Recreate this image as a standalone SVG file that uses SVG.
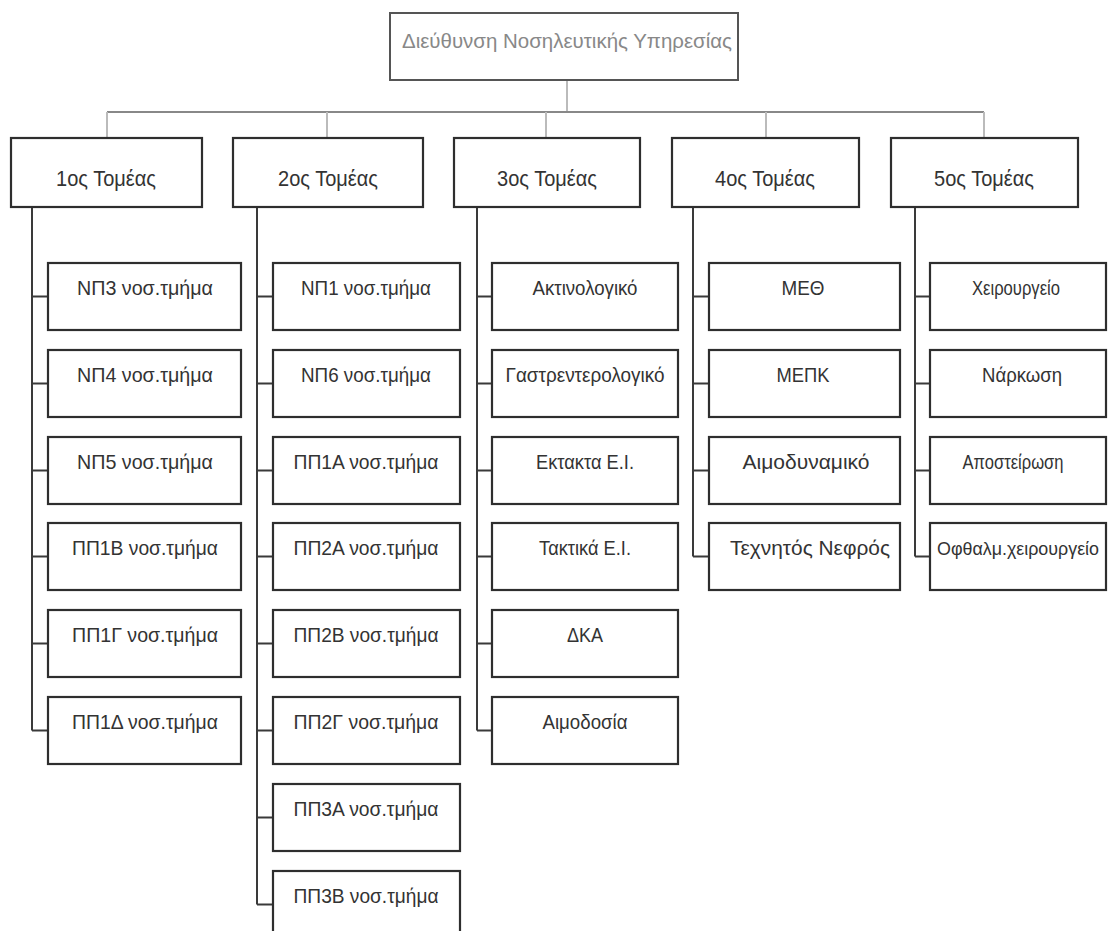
<svg xmlns="http://www.w3.org/2000/svg" width="1108" height="931" viewBox="0 0 1108 931">
<style>
.bx{fill:#fff;stroke:#2e2e2e;stroke-width:2.2}
.top{fill:#fff;stroke:#555;stroke-width:2}
.t{font-family:"Liberation Sans",Arial,sans-serif;font-size:21px;fill:#333;text-anchor:middle}
.tt{font-family:"Liberation Sans",Arial,sans-serif;font-size:20px;fill:#888;text-anchor:middle}
.th{font-family:"Liberation Sans",Arial,sans-serif;font-size:22px;fill:#333;text-anchor:middle}
.c{stroke:#3a3a3a;stroke-width:2;fill:none}
.cl{stroke:#bbb;stroke-width:2;fill:none}
.cm{stroke:#888;stroke-width:2;fill:none}
</style>
<rect width="1108" height="931" fill="#fff"/>
<g id="connectors">
<path class="cl" d="M567 80V112"/>
<path class="cm" d="M107 112H984"/>
<path class="cl" d="M107 112V138M327 112V138M546 112V138M766 112V138M984 112V138"/>
<path class="c" d="M32 207V730.5M32 296.5H48M32 383.5H48M32 470.5H48M32 556.5H48M32 643.5H48M32 730.5H48"/>
<path class="c" d="M257 207V904.5M257 296.5H273M257 383.5H273M257 470.5H273M257 556.5H273M257 643.5H273M257 730.5H273M257 817.5H273M257 904.5H273"/>
<path class="c" d="M477 207V730.5M477 296.5H492M477 383.5H492M477 470.5H492M477 556.5H492M477 643.5H492M477 730.5H492"/>
<path class="c" d="M693 207V556.5M693 296.5H709M693 383.5H709M693 470.5H709M693 556.5H709"/>
<path class="c" d="M915 207V556.5M915 296.5H930M915 383.5H930M915 470.5H930M915 556.5H930"/>
</g>
<g id="n-top"><rect class="top" x="390" y="13" width="348" height="67"/><text class="tt" x="567" y="48" textLength="330" lengthAdjust="spacingAndGlyphs">Διεύθυνση Νοσηλευτικής Υπηρεσίας</text></g>
<g id="n-s1"><rect class="bx" x="11" y="138" width="191" height="69"/><text class="th" x="106" y="186" textLength="100" lengthAdjust="spacingAndGlyphs">1ος Τομέας</text></g>
<g id="n-s2"><rect class="bx" x="233" y="138" width="190" height="69"/><text class="th" x="328" y="186" textLength="100" lengthAdjust="spacingAndGlyphs">2ος Τομέας</text></g>
<g id="n-s3"><rect class="bx" x="454" y="138" width="186" height="69"/><text class="th" x="547" y="186" textLength="100" lengthAdjust="spacingAndGlyphs">3ος Τομέας</text></g>
<g id="n-s4"><rect class="bx" x="672" y="138" width="187" height="69"/><text class="th" x="765" y="186" textLength="100" lengthAdjust="spacingAndGlyphs">4ος Τομέας</text></g>
<g id="n-s5"><rect class="bx" x="891" y="138" width="187" height="69"/><text class="th" x="984" y="186" textLength="100" lengthAdjust="spacingAndGlyphs">5ος Τομέας</text></g>

<g id="n-np3"><rect class="bx" x="48" y="263" width="193" height="67"/><text class="t" x="145" y="295" textLength="136" lengthAdjust="spacingAndGlyphs">ΝΠ3 νοσ.τμήμα</text></g>
<g id="n-np4"><rect class="bx" x="48" y="350" width="193" height="67"/><text class="t" x="145" y="382" textLength="136" lengthAdjust="spacingAndGlyphs">ΝΠ4 νοσ.τμήμα</text></g>
<g id="n-np5"><rect class="bx" x="48" y="437" width="193" height="67"/><text class="t" x="145" y="469" textLength="136" lengthAdjust="spacingAndGlyphs">ΝΠ5 νοσ.τμήμα</text></g>
<g id="n-pp1b"><rect class="bx" x="48" y="523" width="193" height="67"/><text class="t" x="145" y="555" textLength="146" lengthAdjust="spacingAndGlyphs">ΠΠ1Β νοσ.τμήμα</text></g>
<g id="n-pp1g"><rect class="bx" x="48" y="610" width="193" height="67"/><text class="t" x="145" y="642" textLength="146" lengthAdjust="spacingAndGlyphs">ΠΠ1Γ νοσ.τμήμα</text></g>
<g id="n-pp1d"><rect class="bx" x="48" y="697" width="193" height="67"/><text class="t" x="145" y="729" textLength="146" lengthAdjust="spacingAndGlyphs">ΠΠ1Δ νοσ.τμήμα</text></g>

<g id="n-np1"><rect class="bx" x="273" y="263" width="187" height="67"/><text class="t" x="366" y="295" textLength="130" lengthAdjust="spacingAndGlyphs">ΝΠ1 νοσ.τμήμα</text></g>
<g id="n-np6"><rect class="bx" x="273" y="350" width="187" height="67"/><text class="t" x="366" y="382" textLength="130" lengthAdjust="spacingAndGlyphs">ΝΠ6 νοσ.τμήμα</text></g>
<g id="n-pp1a"><rect class="bx" x="273" y="437" width="187" height="67"/><text class="t" x="366" y="469" textLength="145" lengthAdjust="spacingAndGlyphs">ΠΠ1Α νοσ.τμήμα</text></g>
<g id="n-pp2a"><rect class="bx" x="273" y="523" width="187" height="67"/><text class="t" x="366" y="555" textLength="145" lengthAdjust="spacingAndGlyphs">ΠΠ2Α νοσ.τμήμα</text></g>
<g id="n-pp2b"><rect class="bx" x="273" y="610" width="187" height="67"/><text class="t" x="366" y="642" textLength="145" lengthAdjust="spacingAndGlyphs">ΠΠ2Β νοσ.τμήμα</text></g>
<g id="n-pp2g"><rect class="bx" x="273" y="697" width="187" height="67"/><text class="t" x="366" y="729" textLength="145" lengthAdjust="spacingAndGlyphs">ΠΠ2Γ νοσ.τμήμα</text></g>
<g id="n-pp3a"><rect class="bx" x="273" y="784" width="187" height="67"/><text class="t" x="366" y="816" textLength="145" lengthAdjust="spacingAndGlyphs">ΠΠ3Α νοσ.τμήμα</text></g>
<g id="n-pp3b"><rect class="bx" x="273" y="871" width="187" height="67"/><text class="t" x="366" y="903" textLength="145" lengthAdjust="spacingAndGlyphs">ΠΠ3Β νοσ.τμήμα</text></g>

<g id="n-aktin"><rect class="bx" x="492" y="263" width="186" height="67"/><text class="t" x="585" y="295" textLength="105" lengthAdjust="spacingAndGlyphs">Ακτινολογικό</text></g>
<g id="n-gastr"><rect class="bx" x="492" y="350" width="186" height="67"/><text class="t" x="585" y="382" textLength="159" lengthAdjust="spacingAndGlyphs">Γαστρεντερολογικό</text></g>
<g id="n-ekt"><rect class="bx" x="492" y="437" width="186" height="67"/><text class="t" x="585" y="469" textLength="98" lengthAdjust="spacingAndGlyphs">Εκτακτα Ε.Ι.</text></g>
<g id="n-takt"><rect class="bx" x="492" y="523" width="186" height="67"/><text class="t" x="585" y="555" textLength="92" lengthAdjust="spacingAndGlyphs">Τακτικά Ε.Ι.</text></g>
<g id="n-dka"><rect class="bx" x="492" y="610" width="186" height="67"/><text class="t" x="585" y="642" textLength="36" lengthAdjust="spacingAndGlyphs">ΔΚΑ</text></g>
<g id="n-aimod"><rect class="bx" x="492" y="697" width="186" height="67"/><text class="t" x="585" y="729" textLength="85" lengthAdjust="spacingAndGlyphs">Αιμοδοσία</text></g>

<g id="n-meth"><rect class="bx" x="709" y="263" width="191" height="67"/><text class="t" x="803" y="295" textLength="43" lengthAdjust="spacingAndGlyphs">ΜΕΘ</text></g>
<g id="n-mepk"><rect class="bx" x="709" y="350" width="191" height="67"/><text class="t" x="803" y="382" textLength="53" lengthAdjust="spacingAndGlyphs">ΜΕΠΚ</text></g>
<g id="n-aimdyn"><rect class="bx" x="709" y="437" width="191" height="67"/><text class="t" x="806" y="469" textLength="127" lengthAdjust="spacingAndGlyphs">Αιμοδυναμικό</text></g>
<g id="n-nefros"><rect class="bx" x="709" y="523" width="191" height="67"/><text class="t" x="810" y="555" textLength="160" lengthAdjust="spacingAndGlyphs">Τεχνητός Νεφρός</text></g>

<g id="n-xeir"><rect class="bx" x="930" y="263" width="176" height="67"/><text class="t" x="1016" y="295" textLength="88" lengthAdjust="spacingAndGlyphs">Χειρουργείο</text></g>
<g id="n-nark"><rect class="bx" x="930" y="350" width="176" height="67"/><text class="t" x="1022" y="382" textLength="80" lengthAdjust="spacingAndGlyphs">Νάρκωση</text></g>
<g id="n-apost"><rect class="bx" x="930" y="437" width="176" height="67"/><text class="t" x="1013" y="469" textLength="101" lengthAdjust="spacingAndGlyphs">Αποστείρωση</text></g>
<g id="n-ofth"><rect class="bx" x="930" y="523" width="176" height="67"/><text class="t" x="1018" y="555" style="font-size:18px" textLength="162" lengthAdjust="spacingAndGlyphs">Οφθαλμ.χειρουργείο</text></g>
</svg>
